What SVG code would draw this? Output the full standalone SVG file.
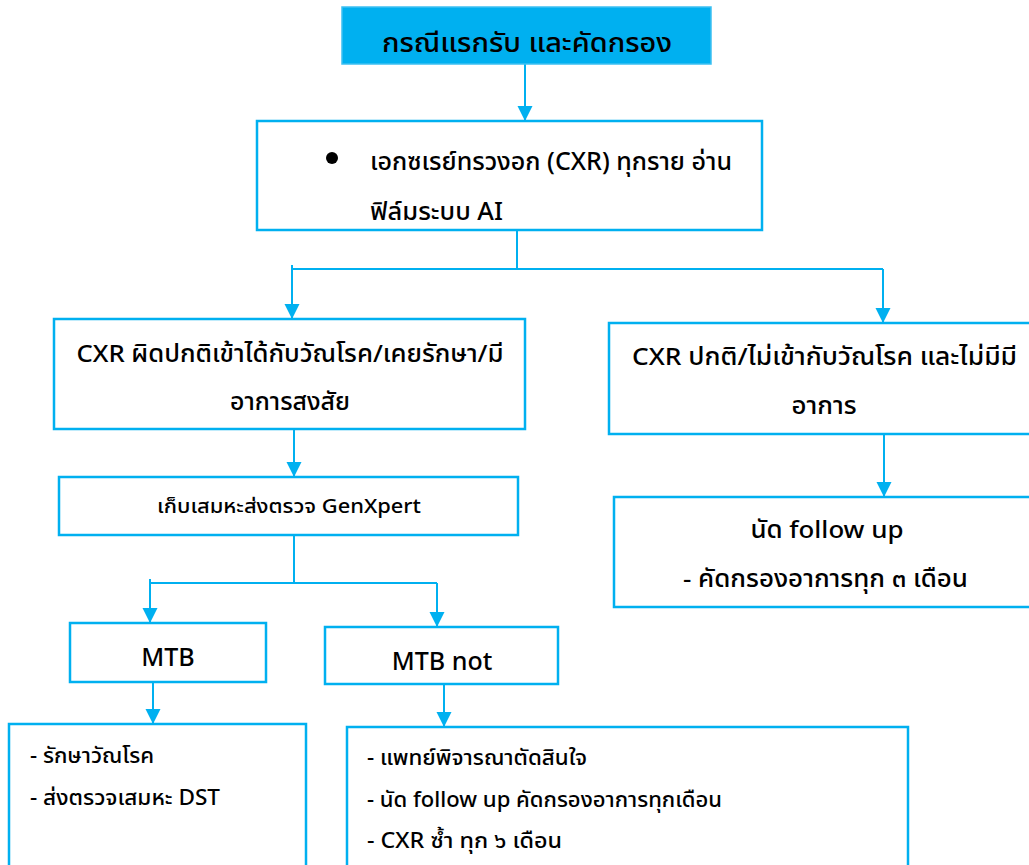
<svg xmlns="http://www.w3.org/2000/svg" width="1029" height="865" viewBox="0 0 1029 865">
<defs>
<marker id="arr" markerUnits="userSpaceOnUse" markerWidth="16" markerHeight="16" refX="15" refY="7.5" orient="auto">
<path d="M0,0 L15,7.5 L0,15 z" fill="#00B0F0"/>
</marker>
<style>
.box{fill:#fff;stroke:#00B0F0;stroke-width:2.5}
.t{font-family:"Noto Sans Thai","Noto Sans Thai UI","Leelawadee UI","Tahoma","Noto Sans","DejaVu Sans",sans-serif;fill:#000;font-weight:500}
.c{text-anchor:middle}
.ln{fill:none;stroke:#00B0F0;stroke-width:2}
</style>
</defs>
<rect width="1029" height="865" fill="#fff"/>
<g id="connectors">
<line class="ln" x1="525" y1="64" x2="525" y2="121" marker-end="url(#arr)"/>
<polyline class="ln" points="517,230 517,269"/>
<line class="ln" x1="292" y1="269" x2="883" y2="269"/>
<line class="ln" x1="292" y1="265" x2="292" y2="319" marker-end="url(#arr)"/>
<line class="ln" x1="883" y1="269" x2="883" y2="323" marker-end="url(#arr)"/>
<line class="ln" x1="294" y1="429" x2="294" y2="477" marker-end="url(#arr)"/>
<line class="ln" x1="294" y1="535" x2="294" y2="583"/>
<line class="ln" x1="150" y1="583" x2="437" y2="583"/>
<line class="ln" x1="150" y1="579" x2="150" y2="623" marker-end="url(#arr)"/>
<line class="ln" x1="437" y1="583" x2="437" y2="627" marker-end="url(#arr)"/>
<line class="ln" x1="153" y1="682" x2="153" y2="724" marker-end="url(#arr)"/>
<line class="ln" x1="444" y1="684" x2="444" y2="727" marker-end="url(#arr)"/>
<line class="ln" x1="884" y1="434" x2="884" y2="497" marker-end="url(#arr)"/>
</g>
<g id="n-title">
<rect x="342" y="7" width="369" height="57" fill="#00B0F0" stroke="#3CC0F2" stroke-width="1.5"/>
<text class="t c" x="527" y="52" font-size="27" font-weight="700" textLength="290" lengthAdjust="spacingAndGlyphs">กรณีแรกรับ และคัดกรอง</text>
</g>
<g id="n-cxr">
<rect class="box" x="257" y="121" width="505" height="109"/>
<circle cx="332" cy="158" r="6" fill="#000"/>
<text class="t" x="370" y="170" font-size="25" textLength="362" lengthAdjust="spacingAndGlyphs">เอกซเรย์ทรวงอก (CXR) ทุกราย อ่าน</text>
<text class="t" x="370" y="220" font-size="25" textLength="133" lengthAdjust="spacingAndGlyphs">ฟิล์มระบบ AI</text>
</g>
<g id="n-abnormal">
<rect class="box" x="54" y="319" width="471" height="110"/>
<text class="t c" x="290" y="362" font-size="24" textLength="427" lengthAdjust="spacingAndGlyphs">CXR ผิดปกติเข้าได้กับวัณโรค/เคยรักษา/มี</text>
<text class="t c" x="290" y="410" font-size="24" textLength="120" lengthAdjust="spacingAndGlyphs">อาการสงสัย</text>
</g>
<g id="n-normal">
<rect class="box" x="609" y="323" width="430" height="111"/>
<text class="t c" x="824.5" y="365" font-size="24" textLength="385" lengthAdjust="spacingAndGlyphs">CXR ปกติ/ไม่เข้ากับวัณโรค และไม่มีมี</text>
<text class="t c" x="824" y="414" font-size="24" textLength="65" lengthAdjust="spacingAndGlyphs">อาการ</text>
</g>
<g id="n-genxpert">
<rect class="box" x="59" y="477" width="459" height="58"/>
<text class="t c" x="289" y="513" font-size="19" textLength="264" lengthAdjust="spacingAndGlyphs">เก็บเสมหะส่งตรวจ GenXpert</text>
</g>
<g id="n-follow">
<rect class="box" x="614" y="497" width="425" height="110"/>
<text class="t c" x="827" y="538" font-size="24" textLength="153" lengthAdjust="spacingAndGlyphs">นัด follow up</text>
<text class="t c" x="825.5" y="587" font-size="24" textLength="285" lengthAdjust="spacingAndGlyphs">- คัดกรองอาการทุก ๓ เดือน</text>
</g>
<g id="n-mtb">
<rect class="box" x="70" y="623" width="196" height="59"/>
<text class="t c" x="168" y="666" font-size="25">MTB</text>
</g>
<g id="n-mtbnot">
<rect class="box" x="325" y="627" width="233" height="57"/>
<text class="t c" x="442" y="670" font-size="25">MTB not</text>
</g>
<g id="n-treat">
<rect class="box" x="9" y="724" width="297" height="150"/>
<text class="t" x="30" y="763" font-size="21" textLength="124" lengthAdjust="spacingAndGlyphs">- รักษาวัณโรค</text>
<text class="t" x="30" y="805" font-size="21" textLength="190" lengthAdjust="spacingAndGlyphs">- ส่งตรวจเสมหะ DST</text>
</g>
<g id="n-doctor">
<rect class="box" x="347" y="727" width="561" height="150"/>
<text class="t" x="367" y="765" font-size="21" textLength="220" lengthAdjust="spacingAndGlyphs">- แพทย์พิจารณาตัดสินใจ</text>
<text class="t" x="367" y="807" font-size="21" textLength="355" lengthAdjust="spacingAndGlyphs">- นัด follow up คัดกรองอาการทุกเดือน</text>
<text class="t" x="367" y="848" font-size="21" textLength="195" lengthAdjust="spacingAndGlyphs">- CXR ซ้ำ ทุก ๖ เดือน</text>
</g>
</svg>
